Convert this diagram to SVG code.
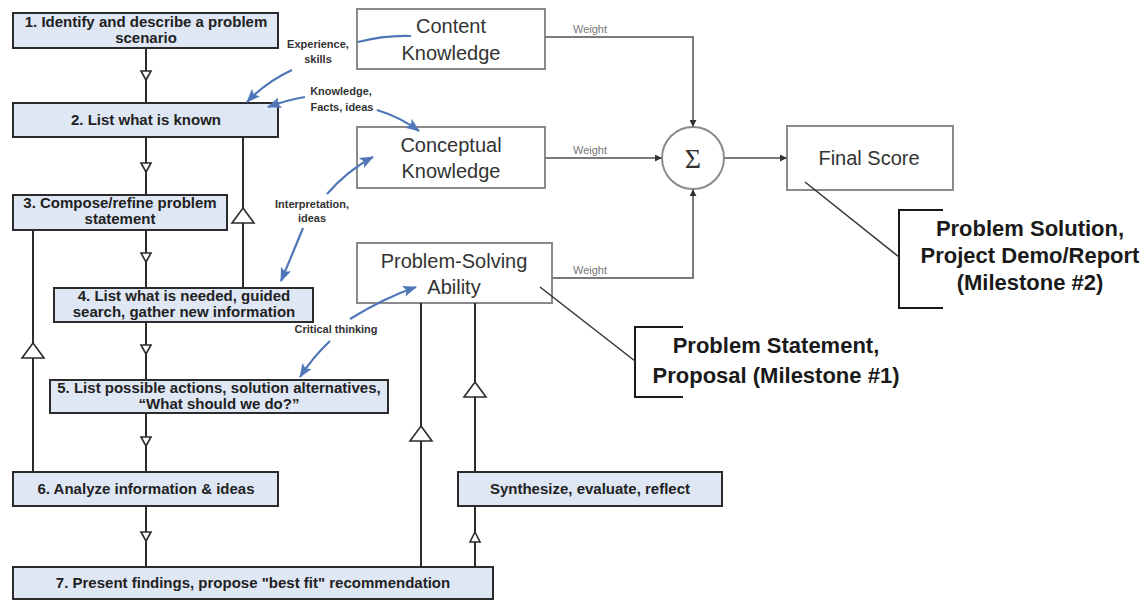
<svg xmlns="http://www.w3.org/2000/svg" width="1147" height="600" viewBox="0 0 1147 600">
  <style>
    .step { fill: #dfe7f5; stroke: #2b2b2b; stroke-width: 2; }
    .stepText { font-family: "Liberation Sans", Arial, sans-serif; font-weight: bold; font-size: 15px; fill: #222; text-anchor: middle; }
    .kbox { fill: #ffffff; stroke: #8a8a8a; stroke-width: 2; }
    .kText { font-family: "Liberation Sans", Arial, sans-serif; font-size: 20px; fill: #333; text-anchor: middle; }
    .flow { fill: none; stroke: #2b2b2b; stroke-width: 2; }
    .tri { fill: #ffffff; stroke: #2b2b2b; stroke-width: 1.6; stroke-linejoin: miter; }
    .wire { fill: none; stroke: #7a7a7a; stroke-width: 2; }
    .weight { font-family: "Liberation Sans", Arial, sans-serif; font-size: 11px; fill: #777; }
    .blue { fill: none; stroke: #4f77b8; stroke-width: 2.2; }
    .blueText { font-family: "Liberation Sans", Arial, sans-serif; font-weight: bold; font-size: 11px; fill: #333; text-anchor: middle; }
    .bracket { fill: none; stroke: #1a1a1a; stroke-width: 2; }
    .callout { fill: none; stroke: #333; stroke-width: 1.5; }
    .msText { font-family: "Liberation Sans", Arial, sans-serif; font-weight: bold; font-size: 22px; fill: #1a1a1a; text-anchor: middle; }
  </style>
  <defs>
    <marker id="blueHead" viewBox="0 0 14 11" refX="13" refY="5.5" markerWidth="14" markerHeight="11" markerUnits="userSpaceOnUse" orient="auto">
      <path d="M0,0 L14,5.5 L0,11 L3,5.5 Z" fill="#4f77b8"/>
    </marker>
    <marker id="dotHead" viewBox="0 0 8 8" refX="7" refY="4" markerWidth="7" markerHeight="7" markerUnits="userSpaceOnUse" orient="auto">
      <path d="M0,0 L8,4 L0,8 Z" fill="#333"/>
    </marker>
    <path id="downSmall" class="tri" d="M-5,0 L5,0 L0,9 Z"/>
    <path id="upBig" class="tri" d="M0,0 L11,15 L-11,15 Z"/>
    <path id="upSmall" class="tri" d="M0,0 L5,10 L-5,10 Z"/>
  </defs>

  <!-- process steps -->
  <g id="step1">
    <rect class="step" x="13" y="13" width="265" height="35"/>
    <text class="stepText" x="146" y="27">1. Identify and describe a problem</text>
    <text class="stepText" x="146" y="43">scenario</text>
  </g>
  <g id="step2">
    <rect class="step" x="13" y="103" width="265" height="34"/>
    <text class="stepText" x="146" y="125">2. List what is known</text>
  </g>
  <g id="step3">
    <rect class="step" x="13" y="195" width="214" height="35"/>
    <text class="stepText" x="120" y="208">3. Compose/refine problem</text>
    <text class="stepText" x="120" y="224">statement</text>
  </g>
  <g id="step4">
    <rect class="step" x="54" y="288" width="259" height="34"/>
    <text class="stepText" x="184" y="301">4. List what is needed, guided</text>
    <text class="stepText" x="184" y="317">search, gather new information</text>
  </g>
  <g id="step5">
    <rect class="step" x="50" y="380" width="338" height="33"/>
    <text class="stepText" x="219" y="393">5. List possible actions, solution alternatives,</text>
    <text class="stepText" x="219" y="409">“What should we do?”</text>
  </g>
  <g id="step6">
    <rect class="step" x="13" y="472" width="265" height="34"/>
    <text class="stepText" x="146" y="494">6. Analyze information &amp; ideas</text>
  </g>
  <g id="step7">
    <rect class="step" x="13" y="567" width="480" height="32"/>
    <text class="stepText" x="253" y="588">7. Present findings, propose "best fit" recommendation</text>
  </g>
  <g id="synthesize">
    <rect class="step" x="458" y="472" width="264" height="34"/>
    <text class="stepText" x="590" y="494">Synthesize, evaluate, reflect</text>
  </g>

  <!-- scoring components -->
  <g id="content-knowledge">
    <rect class="kbox" x="357" y="9" width="188" height="60"/>
    <text class="kText" x="451" y="33">Content</text>
    <text class="kText" x="451" y="60">Knowledge</text>
  </g>
  <g id="conceptual-knowledge">
    <rect class="kbox" x="357" y="127" width="188" height="61"/>
    <text class="kText" x="451" y="152">Conceptual</text>
    <text class="kText" x="451" y="178">Knowledge</text>
  </g>
  <g id="problem-solving">
    <rect class="kbox" x="357" y="243" width="195" height="60"/>
    <text class="kText" x="454" y="268">Problem-Solving</text>
    <text class="kText" x="454" y="294">Ability</text>
  </g>
  <g id="sum">
    <circle cx="693" cy="158" r="31" fill="#ffffff" stroke="#8a8a8a" stroke-width="2"/>
    <text x="693" y="168" font-family="'Liberation Serif', 'Times New Roman', serif" font-size="28" fill="#333" text-anchor="middle">Σ</text>
  </g>
  <g id="final-score">
    <rect class="kbox" x="787" y="126" width="166" height="64"/>
    <text class="kText" x="869" y="165">Final Score</text>
  </g>

  <!-- milestones -->
  <g id="milestone1">
    <path class="bracket" d="M683,327 H635 V397 H683"/>
    <text class="msText" x="776" y="353">Problem Statement,</text>
    <text class="msText" x="776" y="383">Proposal (Milestone #1)</text>
  </g>
  <g id="milestone2">
    <path class="bracket" d="M943,210 H899 V308 H943"/>
    <text class="msText" x="1030" y="236">Problem Solution,</text>
    <text class="msText" x="1030" y="263">Project Demo/Report</text>
    <text class="msText" x="1030" y="290">(Milestone #2)</text>
  </g>

  <!-- connectors -->
  <g id="connectors">
    <!-- main downward flow -->
    <path class="flow" d="M146,48 V103 M146,137 V195 M146,230 V288 M146,322 V380 M146,413 V472 M146,506 V567"/>
    <use href="#downSmall" x="146" y="71"/>
    <use href="#downSmall" x="146" y="163"/>
    <use href="#downSmall" x="146" y="253"/>
    <use href="#downSmall" x="146" y="345"/>
    <use href="#downSmall" x="146" y="437"/>
    <use href="#downSmall" x="146" y="532"/>

    <!-- feedback loops -->
    <path class="flow" d="M243,288 V137"/>
    <use href="#upBig" x="243" y="208"/>
    <path class="flow" d="M33,472 V230"/>
    <use href="#upBig" x="33" y="343"/>
    <path class="flow" d="M421,567 V303"/>
    <use href="#upBig" x="421" y="426"/>
    <path class="flow" d="M475,472 V303"/>
    <use href="#upBig" x="475" y="382"/>
    <path class="flow" d="M475,567 V506"/>
    <use href="#upSmall" x="475" y="532"/>

    <!-- weighted sum -->
    <path class="wire" d="M545,37 H693 V126" marker-end="url(#dotHead)"/>
    <path class="wire" d="M545,158 H661" marker-end="url(#dotHead)"/>
    <path class="wire" d="M552,278 H693 V190" marker-end="url(#dotHead)"/>
    <path class="wire" d="M725,158 H786" marker-end="url(#dotHead)"/>
    <text class="weight" x="573" y="33">Weight</text>
    <text class="weight" x="573" y="154">Weight</text>
    <text class="weight" x="573" y="274">Weight</text>

    <!-- knowledge exchange arrows -->
    <path class="blue" d="M411,36 Q385,35 358,42"/>
    <path class="blue" d="M292,70 Q266,82 247,102" marker-end="url(#blueHead)"/>
    <text class="blueText" x="318" y="48">Experience,</text>
    <text class="blueText" x="318" y="63">skills</text>

    <path class="blue" d="M305,97 Q287,100 268,107" marker-end="url(#blueHead)"/>
    <path class="blue" d="M377,110 Q400,117 419,131" marker-end="url(#blueHead)"/>
    <text class="blueText" x="341" y="95">Knowledge,</text>
    <text class="blueText" x="342" y="111">Facts, ideas</text>

    <path class="blue" d="M327,194 Q348,170 373,157" marker-end="url(#blueHead)"/>
    <path class="blue" d="M303,228 Q292,255 281,281" marker-end="url(#blueHead)"/>
    <text class="blueText" x="312" y="208">Interpretation,</text>
    <text class="blueText" x="312" y="222">ideas</text>

    <path class="blue" d="M350,319 Q384,298 416,287" marker-end="url(#blueHead)"/>
    <path class="blue" d="M330,341 Q313,357 300,377" marker-end="url(#blueHead)"/>
    <text class="blueText" x="336" y="333">Critical thinking</text>

    <!-- milestone callouts -->
    <path class="callout" d="M540,287 L635,361"/>
    <path class="callout" d="M805,182 L899,257"/>
  </g>
</svg>
